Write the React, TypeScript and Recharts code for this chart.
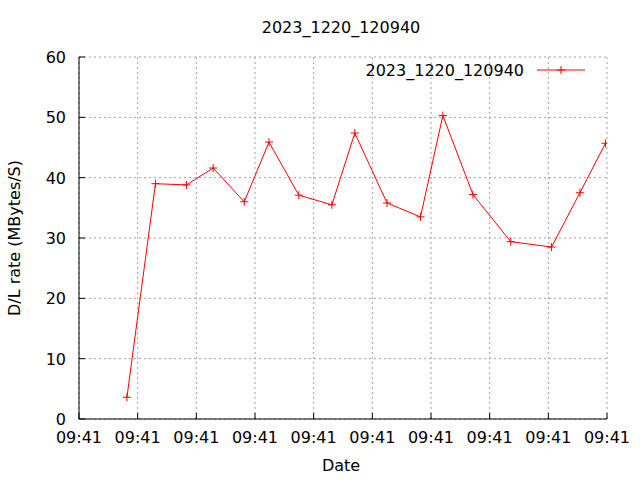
import React from 'react';
import { LineChart, Line, XAxis, YAxis, CartesianGrid } from 'recharts';

const seriesName = '2023_1220_120940';
const chartTitle = '2023_1220_120940';
const xLabel = 'Date';
const yLabel = 'D/L rate (MBytes/S)';
const timeOffsets = [0.817, 1.303, 1.832, 2.287, 2.817, 3.239, 3.747, 4.311, 4.701, 5.251, 5.821, 6.202, 6.715, 7.359, 8.055, 8.538, 8.974];
const rates = [3.6, 39.0, 38.8, 41.6, 36.0, 45.9, 37.1, 35.5, 47.4, 35.8, 33.5, 50.3, 37.2, 29.4, 28.5, 37.5, 45.7];
const xTicks = [0, 1, 2, 3, 4, 5, 6, 7, 8, 9];
const xTickLabels = ['09:41', '09:41', '09:41', '09:41', '09:41', '09:41', '09:41', '09:41', '09:41', '09:41'];
const yTicks = [0, 10, 20, 30, 40, 50, 60];

const data = timeOffsets.map((t, i) => ({ t, rate: rates[i] }));

const FONT = 'DejaVu Sans, sans-serif';
const FS = 16;

const BottomTick = (props: any) => {
  const { x, y, index } = props;
  return (
    <g>
      <line x1={x} y1={y} x2={x} y2={y - 6} stroke="#000" />
      <text x={x} y={y + 24} textAnchor="middle" fontFamily={FONT} fontSize={FS} fill="#000">
        {xTickLabels[index]}
      </text>
    </g>
  );
};

const TopTick = (props: any) => {
  const { x, y } = props;
  return <line x1={x} y1={y} x2={x} y2={y + 6} stroke="#000" />;
};

const LeftTick = (props: any) => {
  const { x, y, payload } = props;
  return (
    <g>
      <line x1={x} y1={y} x2={x + 6} y2={y} stroke="#000" />
      <text x={x - 13} y={y + 6} textAnchor="end" fontFamily={FONT} fontSize={FS} fill="#000">
        {payload.value}
      </text>
    </g>
  );
};

const RightTick = (props: any) => {
  const { x, y } = props;
  return <line x1={x} y1={y} x2={x - 6} y2={y} stroke="#000" />;
};

const PlusDot = (props: any) => {
  const { cx, cy, index } = props;
  if (cx == null || cy == null) return <g key={index} />;
  return <path key={index} d={`M${cx - 4},${cy}h8M${cx},${cy - 4}v8`} stroke="#ff0000" strokeWidth={1} fill="none" />;
};

export default function App() {
  return (
    <div style={{ position: 'absolute', left: 0, top: 0, width: 640, height: 480, background: '#fff' }}>
      <LineChart
        width={640}
        height={480}
        data={data}
        margin={{ top: 57, right: 33, bottom: 31, left: 0 }}
      >
        <CartesianGrid stroke="#a0a0a0" strokeDasharray="2 3" horizontalValues={yTicks} verticalValues={xTicks} />
        <XAxis
          dataKey="t"
          type="number"
          domain={[0, 9]}
          ticks={xTicks}
          interval={0}
          height={30}
          tickSize={0}
          tickMargin={0}
          tickLine={false}
          axisLine={{ stroke: '#000' }}
          tick={<BottomTick />}
          allowDataOverflow
        />
        <XAxis
          xAxisId="top"
          orientation="top"
          dataKey="t"
          type="number"
          domain={[0, 9]}
          ticks={xTicks}
          interval={0}
          height={0}
          tickSize={0}
          tickMargin={0}
          tickLine={false}
          axisLine={{ stroke: '#000' }}
          tick={<TopTick />}
          allowDataOverflow
        />
        <YAxis
          type="number"
          domain={[0, 60]}
          ticks={yTicks}
          interval={0}
          width={79}
          tickSize={0}
          tickMargin={0}
          tickLine={false}
          axisLine={{ stroke: '#000' }}
          tick={<LeftTick />}
          allowDataOverflow
        />
        <YAxis
          yAxisId="right"
          orientation="right"
          type="number"
          domain={[0, 60]}
          ticks={yTicks}
          interval={0}
          width={0}
          tickSize={0}
          tickMargin={0}
          tickLine={false}
          axisLine={{ stroke: '#000' }}
          tick={<RightTick />}
          allowDataOverflow
        />
        <Line
          dataKey="rate"
          stroke="#ff0000"
          strokeWidth={1}
          dot={<PlusDot />}
          activeDot={false}
          isAnimationActive={false}
          name={seriesName}
        />
      </LineChart>
      <svg width={640} height={480} style={{ position: 'absolute', left: 0, top: 0, pointerEvents: 'none' }}>
        <text x={341} y={33} textAnchor="middle" fontFamily={FONT} fontSize={FS} fill="#000">{chartTitle}</text>
        <text x={341} y={471} textAnchor="middle" fontFamily={FONT} fontSize={FS} fill="#000">{xLabel}</text>
        <text x={20} y={238} textAnchor="middle" fontFamily={FONT} fontSize={FS} fill="#000" transform="rotate(-90 20 238)">{yLabel}</text>
        <text x={524} y={76} textAnchor="end" fontFamily={FONT} fontSize={FS} fill="#000">{seriesName}</text>
        <line x1={537} y1={70} x2={585} y2={70} stroke="#ff0000" />
        <path d="M557,70h8M561,66v8" stroke="#ff0000" />
      </svg>
    </div>
  );
}
